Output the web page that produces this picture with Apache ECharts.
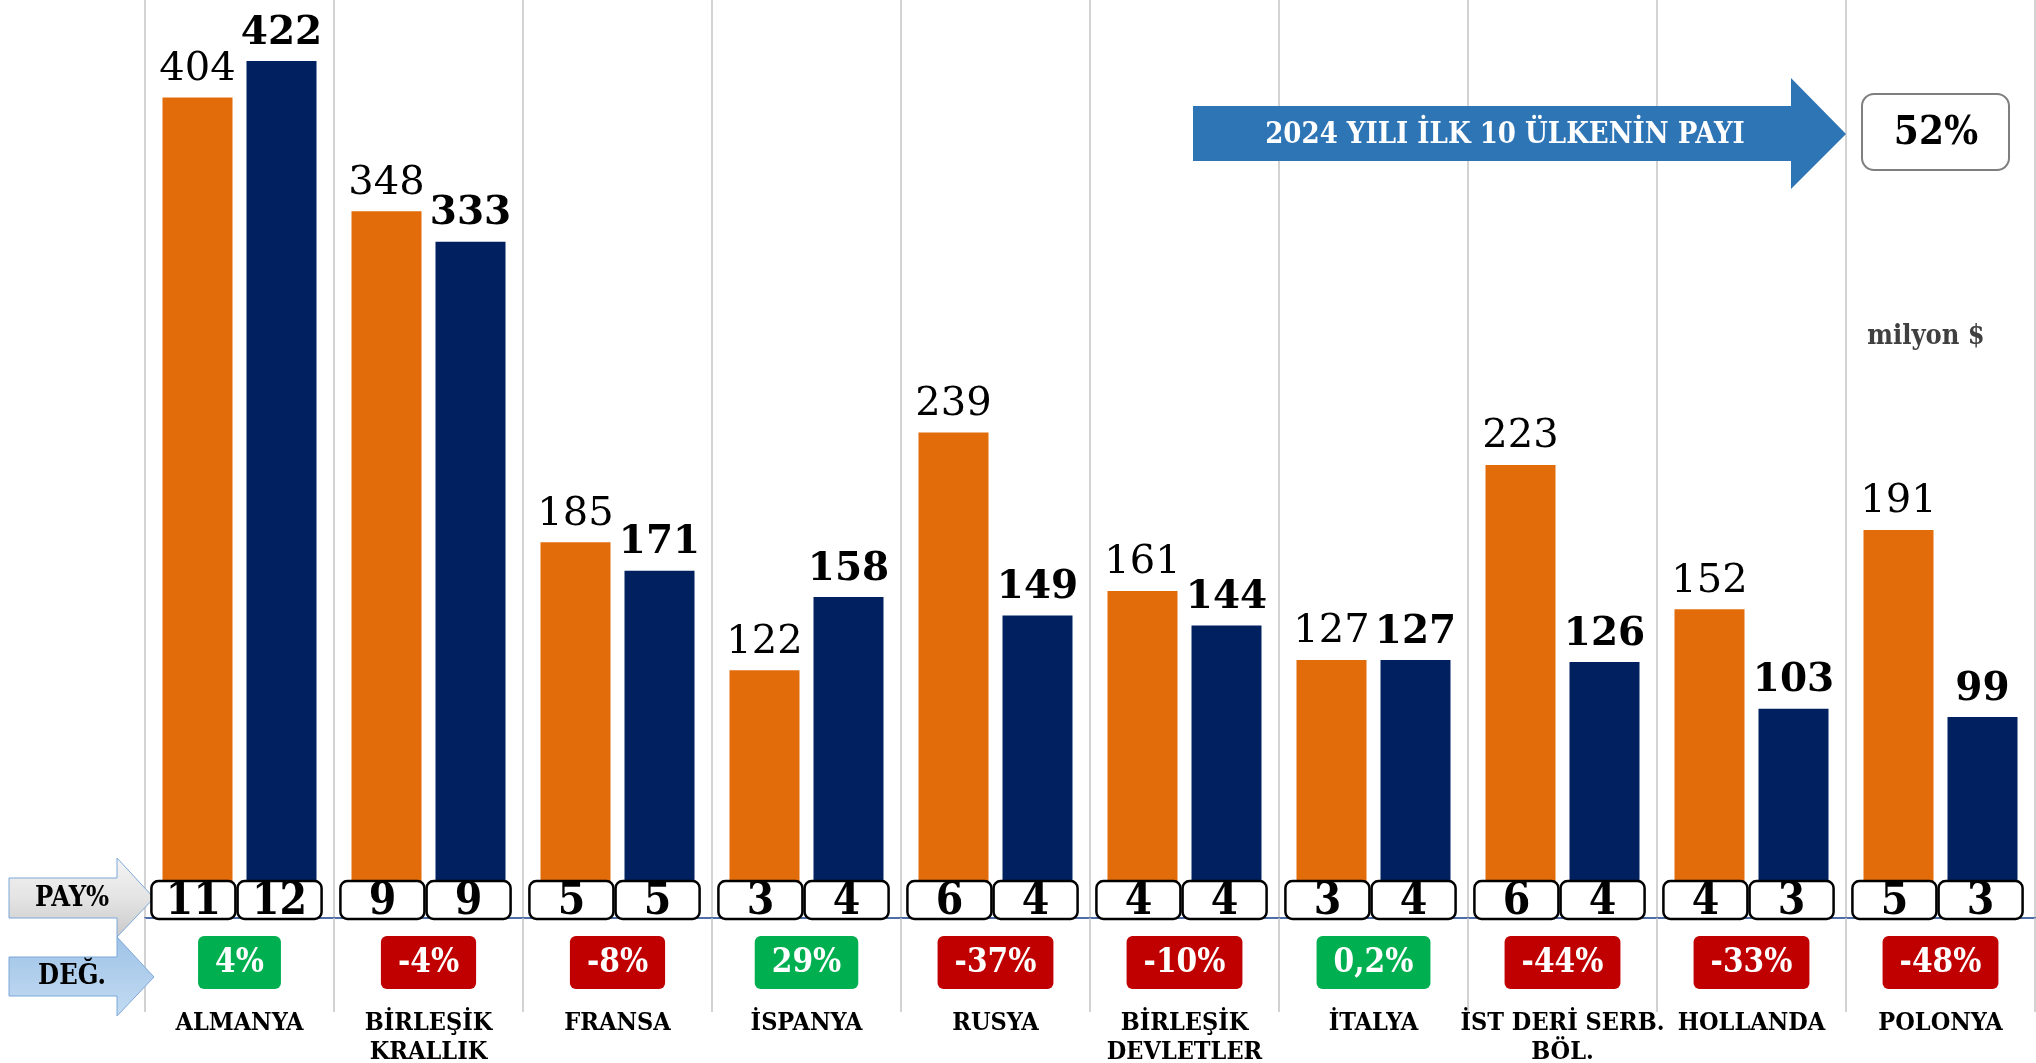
<!DOCTYPE html>
<html>
<head>
<meta charset="utf-8">
<script src="https://cdn.jsdelivr.net/npm/echarts@6/dist/echarts.min.js"></script>
<style>
html, body { margin: 0; padding: 0; background: #fff; }
#chart { width: 2036px; height: 1063px; }
</style>
</head>
<body>
<div id="chart"></div>
<script>
// ilk 10 ülke - ihracat (milyon $)
var countries = ['ALMANYA', 'BİRLEŞİK\nKRALLIK', 'FRANSA', 'İSPANYA', 'RUSYA',
  'BİRLEŞİK\nDEVLETLER', 'İTALYA', 'İST DERİ SERB.\nBÖL.', 'HOLLANDA', 'POLONYA'];
var values2023 = [404, 348, 185, 122, 239, 161, 127, 223, 152, 191];
var values2024 = [422, 333, 171, 158, 149, 144, 127, 126, 103, 99];
var share2023 = [11, 9, 5, 3, 6, 4, 3, 6, 4, 5];
var share2024 = [12, 9, 5, 4, 4, 4, 4, 4, 3, 3];
var changes = ['4%', '-4%', '-8%', '29%', '-37%', '-10%', '0,2%', '-44%', '-33%', '-48%'];
var top10Share = '52%';
var unitText = 'milyon $';
var arrowText = '2024 YILI İLK 10 ÜLKENİN PAYI';

var SERIF = '"DejaVu Serif Condensed", "DejaVu Serif", "Liberation Serif", serif';

var chart = echarts.init(document.getElementById('chart'));

// kutucuklar (PAY%) - cubugun altinda
function payBoxes(name, shares, side) {
  return {
    name: name,
    type: 'custom',
    xAxisIndex: 1,
    z: 20,
    clip: false,
    data: shares.map(function(v, i) { return [i, v]; }),
    renderItem: function(params, api) {
      var p = api.coord([api.value(0), 0]);
      var bw = api.size([1, 0])[0];
      var cx = p[0] + side * bw * 0.228 - 3;
      var cy = p[1] - 18;
      return {
        type: 'group',
        children: [
          { type: 'rect', shape: { x: cx - 42, y: cy - 19, width: 84, height: 38, r: 7 },
            style: { fill: '#fff', stroke: '#000', lineWidth: 2.5 } },
          { type: 'text', style: { text: String(api.value(1)), x: cx, y: cy + 3, align: 'center',
            verticalAlign: 'middle', font: 'bold 44px ' + SERIF, fill: '#000' } }
        ]
      };
    }
  };
}

var badge = function(bg) {
  return { backgroundColor: bg, color: '#fff', fontFamily: SERIF, fontWeight: 'bold',
    fontSize: 33, lineHeight: 33, padding: [11, 17, 9, 17], borderRadius: 6 };
};

var option = {
  animation: false,
  grid: { left: 145, right: 1, top: 0, bottom: 145, containLabel: false, outerBoundsMode: 'none' },
  xAxis: [{
    type: 'category',
    data: countries,
    axisLine: { lineStyle: { color: '#4f6ea8', width: 2 } },
    axisTick: { show: true, interval: 0, length: 94, lineStyle: { color: '#c4c4c4', width: 1.5 } },
    splitLine: { show: true, interval: 0, lineStyle: { color: '#c4c4c4', width: 1.5 } },
    axisLabel: {
      interval: 0, margin: 91, color: '#000',
      fontFamily: SERIF, fontWeight: 'bold', fontSize: 25, lineHeight: 29
    }
  }, {
    type: 'category',
    data: countries,
    position: 'bottom',
    axisLine: { show: false },
    axisTick: { show: false },
    splitLine: { show: false },
    axisLabel: {
      interval: 0, margin: 28,
      formatter: function(value, index) {
        var c = changes[index];
        return '{' + (c.charAt(0) === '-' ? 'neg' : 'pos') + '|' + c + '}';
      },
      rich: { pos: badge('#00b050'), neg: badge('#c00000') }
    }
  }],
  yAxis: {
    type: 'value', min: 0, max: 452, show: false,
    splitLine: { show: false }
  },
  series: [{
    name: '2023',
    type: 'bar',
    data: values2023,
    barWidth: 70,
    barGap: '20%',
    itemStyle: { color: '#e36c0a' },
    label: { show: true, position: 'top', distance: 8, color: '#000',
      fontFamily: '"DejaVu Serif", serif', fontSize: 40 }
  }, {
    name: '2024',
    type: 'bar',
    data: values2024,
    barWidth: 70,
    barGap: '20%',
    itemStyle: { color: '#002060' },
    label: { show: true, position: 'top', distance: 8, color: '#000',
      fontFamily: '"DejaVu Serif", serif', fontWeight: 'bold', fontSize: 39 }
  },
    payBoxes('PAY 2023', share2023, -1),
    payBoxes('PAY 2024', share2024, 1)
  ],
  graphic: [
    { type: 'polygon', z: 10,
      shape: { points: [[9, 878], [117, 878], [117, 858], [154, 898], [117, 937], [117, 918], [9, 918]] },
      style: { fill: new echarts.graphic.LinearGradient(0, 0, 0, 1, [
        { offset: 0, color: '#f4f4f4' }, { offset: 0.5, color: '#e4e4e4' }, { offset: 1, color: '#c9c9c9' }]),
        stroke: '#7da7d9', lineWidth: 1 } },
    { type: 'text', z: 11, x: 72, y: 899,
      style: { text: 'PAY%', align: 'center', verticalAlign: 'middle', font: 'bold 27px ' + SERIF, fill: '#000' } },
    { type: 'polygon', z: 10,
      shape: { points: [[9, 957], [117, 957], [117, 937], [154, 977], [117, 1016], [117, 996], [9, 996]] },
      style: { fill: new echarts.graphic.LinearGradient(0, 0, 0, 1, [
        { offset: 0, color: '#9fc3e7' }, { offset: 1, color: '#c3dbf2' }]),
        stroke: '#7da7d9', lineWidth: 1 } },
    { type: 'text', z: 11, x: 72, y: 977,
      style: { text: 'DEĞ.', align: 'center', verticalAlign: 'middle', font: 'bold 27px ' + SERIF, fill: '#000' } },
    { type: 'polygon', z: 10,
      shape: { points: [[1193, 106], [1791, 106], [1791, 78], [1846, 134], [1791, 189], [1791, 161], [1193, 161]] },
      style: { fill: '#2e75b6' } },
    { type: 'text', z: 11, x: 1505, y: 135,
      style: { text: arrowText, align: 'center', verticalAlign: 'middle', font: 'bold 29px ' + SERIF, fill: '#fff' } },
    { type: 'rect', z: 10, shape: { x: 1862, y: 94, width: 147, height: 76, r: 12 },
      style: { fill: '#fff', stroke: '#7f7f7f', lineWidth: 2 } },
    { type: 'text', z: 11, x: 1936, y: 134,
      style: { text: top10Share, align: 'center', verticalAlign: 'middle', font: 'bold 40px ' + SERIF, fill: '#000' } },
    { type: 'text', z: 11, x: 1926, y: 337,
      style: { text: unitText, align: 'center', verticalAlign: 'middle', font: 'bold 27px ' + SERIF, fill: '#404040' } }
  ]
};

chart.setOption(option);
</script>
</body>
</html>
